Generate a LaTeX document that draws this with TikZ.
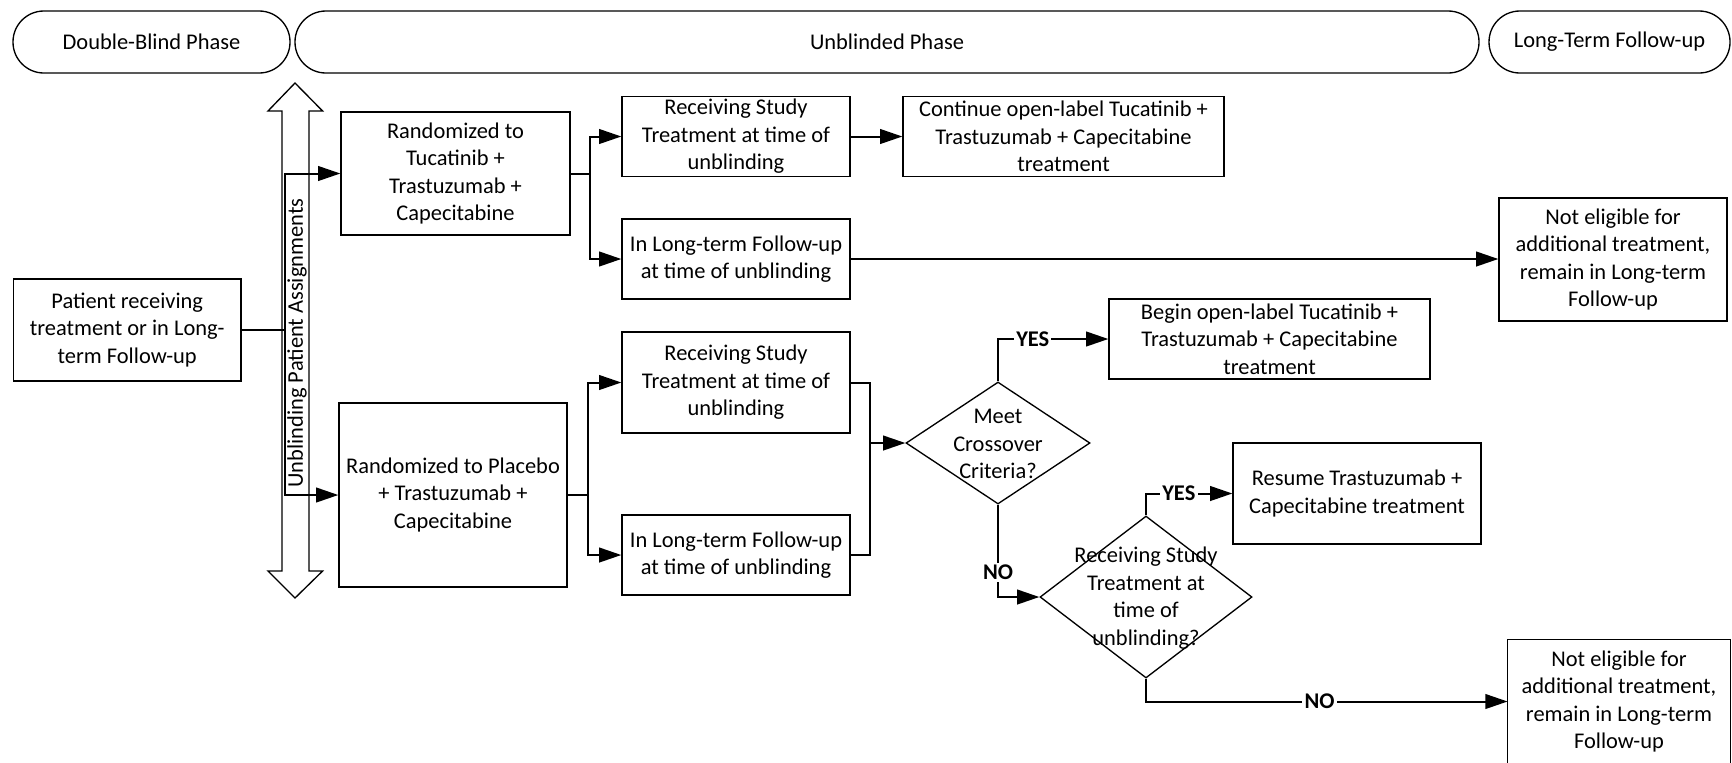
\documentclass[tikz,border=0pt]{standalone}
\usepackage{fontspec}
\setmainfont{Carlito}
\usetikzlibrary{arrows.meta,shapes.geometric}
\newcommand\dgfont{\fontsize{10.1pt}{12.4pt}\selectfont}
\begin{document}
\begin{tikzpicture}[x=0.45pt,y=-0.45pt,
  dbox/.style={draw, line width=0.6pt, align=center, inner sep=0pt, font=\dgfont},
  wh/.style 2 args={minimum width=#1*0.45pt, minimum height=#2*0.45pt},
  pill/.style={draw, line width=0.6pt, rounded corners=13.9pt, inner sep=0pt, font=\dgfont},
  diam/.style={draw, diamond, line width=0.6pt, inner sep=0pt},
  txt/.style={align=center, font=\dgfont, inner sep=0pt},
  conn/.style={line width=0.9pt},
  arr/.style={conn, -{Triangle[length=10pt,width=6.6pt]}},
  lbl/.style={fill=white, font=\dgfont\bfseries, inner sep=1pt}]
\fill[white] (0,0) rectangle (1732,762);
\useasboundingbox (0,0) rectangle (1732,762);

% phase pills
\node[pill, wh={277}{62}] (pdb) at (151.5,42) {Double-Blind Phase};
\node[pill, wh={1184}{62}] (pub) at (887,42) {Unblinded Phase};
\node[pill, wh={241}{62}] (plt) at (1609.5,42) {Long-Term Follow-up};

% double block arrow
\draw[line width=0.6pt, fill=white] (295,83) -- (322.6,111) -- (309,111) -- (309,571) -- (322.6,571) -- (295,598) -- (268,571) -- (282,571) -- (282,111) -- (268,111) -- cycle;
\node[txt, rotate=90] (ulbl) at (297,343) {Unblinding Patient Assignments};

% boxes
\node[dbox, wh={227.6}{102}] (pat) at (127.2,330) {Patient receiving\\treatment or in Long-\\term Follow-up};
\node[dbox, wh={229}{123}] (tuc) at (455.5,173.5) {Randomized to\\Tucatinib +\\Trastuzumab +\\Capecitabine};
\node[dbox, wh={228}{184}] (plc) at (453,495) {Randomized to Placebo\\+ Trastuzumab +\\Capecitabine};
\node[dbox, wh={228}{80}] (rs1) at (736,136.5) {Receiving Study\\Treatment at time of\\unblinding};
\node[dbox, wh={321}{80}] (cont) at (1063.5,136.5) {Continue open-label Tucatinib +\\Trastuzumab + Capecitabine\\treatment};
\node[dbox, wh={228}{80}] (lt1) at (736,259) {In Long-term Follow-up\\at time of unblinding};
\node[dbox, wh={228}{123}] (ne1) at (1613,259.5) {Not eligible for\\additional treatment,\\remain in Long-term\\Follow-up};
\node[dbox, wh={321}{80}] (beg) at (1269.5,339) {Begin open-label Tucatinib +\\Trastuzumab + Capecitabine\\treatment};
\node[dbox, wh={228}{101}] (rs2) at (736,382.5) {Receiving Study\\Treatment at time of\\unblinding};
\node[dbox, wh={228}{80}] (lt2) at (736,555) {In Long-term Follow-up\\at time of unblinding};
\node[diam, wh={184}{122}] (d1) at (998,443) {};
\node[txt] (d1t) at (998,444) {Meet\\Crossover\\Criteria?};
\node[diam, wh={212}{162}] (d2) at (1146,597) {};
\node[txt] (d2t) at (1146,598) {Receiving Study\\Treatment at\\time of\\unblinding?};
\node[dbox, wh={248}{101}] (res) at (1357,493.5) {Resume Trastuzumab +\\Capecitabine treatment};
\node[txt, wh={222}{123}] (ne2) at (1619,701.5) {Not eligible for\\additional treatment,\\remain in Long-term\\Follow-up};
\draw[line width=0.6pt] (ne2.north west) rectangle ([yshift=-20pt]ne2.south east);

% connectors
\coordinate (ut) at (285,173.5);
\coordinate (ub) at (285,495);
\draw[conn] (pat.east) -- (pat.east -| ut);
\draw[arr] (ub) |- (tuc.west);
\draw[arr] (ut) |- (plc.west);

\coordinate (tb1) at (590,136.5);
\coordinate (tb2) at (590,259);
\draw[conn] (tuc.east) -- (tuc.east -| tb1);
\draw[arr] (tb2) |- (rs1.west);
\draw[arr] (tb1) |- (lt1.west);

\coordinate (pb1) at (588,382.5);
\coordinate (pb2) at (588,555);
\draw[conn] (plc.east) -- (plc.east -| pb1);
\draw[arr] (pb2) |- (rs2.west);
\draw[arr] (pb1) |- (lt2.west);

\draw[arr] (rs1.east) -- (cont.west);
\draw[arr] (lt1.east) -- (lt1.east -| ne1.west);

\coordinate (mg) at (870,443);
\draw[conn] (rs2.east) -| (mg);
\draw[conn] (lt2.east) -| (mg);
\draw[arr] (mg) -- (d1.west);

\draw[arr] (d1.north) |- node[lbl, pos=0.6575] {YES} (beg.west);
\draw[arr] (d1.south) |- node[lbl, pos=0.366] {NO} (d2.west);
\draw[arr] (d2.north) |- node[lbl, pos=0.69] {YES} (res.west);
\draw[arr] (d2.south) |- node[lbl, pos=0.74] {NO} (ne2.west);
\end{tikzpicture}
\end{document}
